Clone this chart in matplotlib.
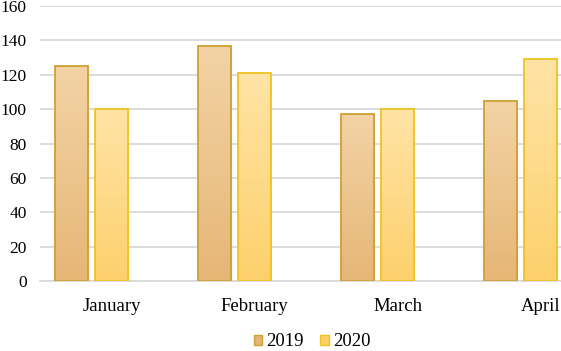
#!/usr/bin/env python3
"""Monthly comparison bar chart, 2019 vs 2020 (Excel-style gradient bars)."""

import matplotlib
matplotlib.use("Agg")
import matplotlib.pyplot as plt
import numpy as np
from matplotlib.colors import LinearSegmentedColormap
from matplotlib.patches import Patch

months = ["January", "February", "March", "April"]
years = ["2019", "2020"]
values_2019 = [125, 137, 97, 105]
values_2020 = [100, 121, 100, 129]
y_ticks = [0, 20, 40, 60, 80, 100, 120, 140, 160]

plt.rcParams["font.family"] = ["Liberation Serif", "DejaVu Serif"]

W, H = 561, 351
fig = plt.figure(figsize=(W / 100, H / 100), dpi=100)
# plot area runs past the right edge of the image (cropped like the original)
ax = fig.add_axes([40 / W, 70 / H, 572 / W, 275 / H])

styles = {
    "2019": dict(top="#f3d3a5", bottom="#e6b676", edge="#cfa032"),
    "2020": dict(top="#ffe4a6", bottom="#fdd06c", edge="#f2c21f"),
}
offsets = {"2019": -0.28, "2020": 0.0}
width = 0.231

x = np.arange(len(months))
for year, vals in zip(years, [values_2019, values_2020]):
    st = styles[year]
    bars = ax.bar(x + offsets[year], vals, width=width, facecolor="none",
                  edgecolor=st["edge"], linewidth=1.3, zorder=3)
    cmap = LinearSegmentedColormap.from_list(year, [st["bottom"], st["top"]])
    grad = np.linspace(0, 1, 256).reshape(-1, 1)
    for b in bars:
        x0, y0 = b.get_x(), b.get_y()
        im = ax.imshow(grad, cmap=cmap, origin="lower", aspect="auto",
                       extent=(x0, x0 + b.get_width(), y0, y0 + b.get_height()),
                       zorder=2)
        im.set_clip_path(b)

ax.set_xlim(-0.5, 3.5)
ax.set_ylim(0, 160)
ax.set_yticks(y_ticks)
ax.set_xticks(x)
ax.set_xticklabels(months)
ax.tick_params(axis="x", length=0, labelsize=13.5, colors="black", pad=12)
ax.tick_params(axis="y", length=0, labelsize=12.5, colors="black", pad=9.5)
ax.grid(axis="y", color="#d9d9d9", linewidth=1.3, zorder=0)
for side in ["top", "right", "left"]:
    ax.spines[side].set_visible(False)
ax.spines["bottom"].set_color("#d9d9d9")
ax.spines["bottom"].set_linewidth(1.3)

handles = [Patch(facecolor=styles[y]["bottom"], edgecolor=styles[y]["edge"],
                 label=y) for y in years]
fig.legend(handles=handles, loc="center", bbox_to_anchor=(312 / W, 1 - 342 / H),
           ncol=2, frameon=False, fontsize=13.5, handlelength=0.45,
           handleheight=0.45, handletextpad=0.2, columnspacing=0.9)

fig.savefig("out.png", dpi=100)
